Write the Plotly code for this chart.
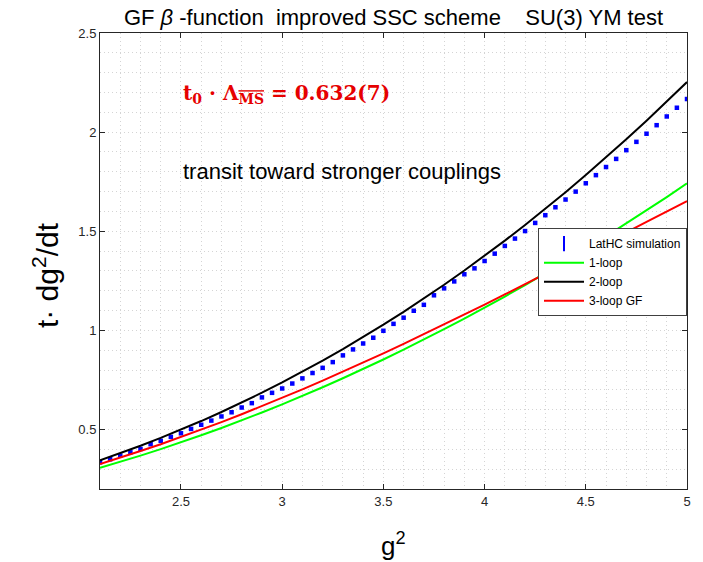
import plotly.graph_objects as go

# ---- data ----
g2_sim = [2.10, 2.15, 2.20, 2.25, 2.30, 2.35, 2.40, 2.45, 2.50, 2.55,
          2.60, 2.65, 2.70, 2.75, 2.80, 2.85, 2.90, 2.95, 3.00, 3.05,
          3.10, 3.15, 3.20, 3.25, 3.30, 3.35, 3.40, 3.45, 3.50, 3.55,
          3.60, 3.65, 3.70, 3.75, 3.80, 3.85, 3.90, 3.95, 4.00, 4.05,
          4.10, 4.15, 4.20, 4.25, 4.30, 4.35, 4.40, 4.45, 4.50, 4.55,
          4.60, 4.65, 4.70, 4.75, 4.80, 4.85, 4.90, 4.95, 5.00]
beta_sim = [0.335, 0.350, 0.369, 0.385, 0.402, 0.426, 0.443, 0.463, 0.481, 0.503,
            0.524, 0.545, 0.566, 0.587, 0.611, 0.633, 0.662, 0.685, 0.707, 0.732,
            0.758, 0.785, 0.811, 0.840, 0.874, 0.904, 0.934, 0.963, 0.998, 1.033,
            1.064, 1.099, 1.129, 1.177, 1.212, 1.247, 1.283, 1.313, 1.350, 1.387,
            1.426, 1.463, 1.501, 1.542, 1.581, 1.621, 1.660, 1.700, 1.742, 1.783,
            1.824, 1.865, 1.909, 1.951, 1.992, 2.035, 2.079, 2.123, 2.167]

g2_line = [2.1, 2.2, 2.3, 2.4, 2.5, 2.6, 2.7, 2.8, 2.9, 3.0,
           3.1, 3.2, 3.3, 3.4, 3.5, 3.6, 3.7, 3.8, 3.9, 4.0,
           4.1, 4.2, 4.3, 4.4, 4.5, 4.6, 4.7, 4.8, 4.9, 5.0]
beta_1loop = [0.3072, 0.3371, 0.3685, 0.4012, 0.4354, 0.4709, 0.5078, 0.5461, 0.5858, 0.6269,
              0.6694, 0.7133, 0.7586, 0.8052, 0.8533, 0.9028, 0.9536, 1.0059, 1.0595, 1.1145,
              1.1709, 1.2288, 1.2880, 1.3486, 1.4106, 1.4740, 1.5388, 1.6049, 1.6725, 1.7415]
beta_2loop = [0.3451, 0.3807, 0.4183, 0.4577, 0.4993, 0.5428, 0.5883, 0.6359, 0.6856, 0.7373,
              0.7913, 0.8473, 0.9056, 0.9660, 1.0287, 1.0936, 1.1608, 1.2303, 1.3021, 1.3763,
              1.4528, 1.5318, 1.6132, 1.6970, 1.7833, 1.8721, 1.9635, 2.0573, 2.1537, 2.2528]
beta_3loop = [0.3264, 0.3582, 0.3914, 0.4258, 0.4618, 0.4989, 0.5372, 0.5768, 0.6176, 0.6595,
              0.7026, 0.7465, 0.7916, 0.8376, 0.8845, 0.9322, 0.9807, 1.0299, 1.0798, 1.1303,
              1.1812, 1.2328, 1.2847, 1.3368, 1.3892, 1.4418, 1.4946, 1.5472, 1.5997, 1.6522]

x_ticks = [2.5, 3, 3.5, 4, 4.5, 5]
x_tick_text = ["2.5", "3", "3.5", "4", "4.5", "5"]
y_ticks = [0.5, 1, 1.5, 2, 2.5]
y_tick_text = ["0.5", "1", "1.5", "2", "2.5"]

FONT = "Liberation Sans, Arial, sans-serif"
AX = "#262626"
GRID = "#d4d4d4"

fig = go.Figure()

# simulation points (legend entry drawn separately with an error-bar-like symbol)
fig.add_trace(go.Scatter(x=g2_sim, y=beta_sim, mode="markers", showlegend=False,
                         marker=dict(symbol="square", size=4.5, color="#0000ff")))
fig.add_trace(go.Scatter(x=[None], y=[None], mode="markers", name="LatHC simulation",
                         marker=dict(symbol="line-ns", size=11, color="#0000ff",
                                     line=dict(color="#0000ff", width=2))))
fig.add_trace(go.Scatter(x=g2_line, y=beta_1loop, mode="lines", name="1-loop",
                         line=dict(color="#00ff00", width=2)))
fig.add_trace(go.Scatter(x=g2_line, y=beta_2loop, mode="lines", name="2-loop",
                         line=dict(color="#000000", width=2)))
fig.add_trace(go.Scatter(x=g2_line, y=beta_3loop, mode="lines", name="3-loop GF",
                         line=dict(color="#ff0000", width=2)))

grid = dict(showgrid=True, gridcolor=GRID, griddash="1px,3px", gridwidth=1)

fig.update_xaxes(range=[2.1, 5], tickvals=x_ticks, ticktext=x_tick_text,
                 ticks="inside", ticklen=5, tickcolor=AX, mirror="allticks",
                 showline=True, linecolor=AX, linewidth=1, zeroline=False,
                 tickfont=dict(family=FONT, size=13, color=AX),
                 minor=dict(dtick=0.1, tick0=2.1, showgrid=True, gridcolor=GRID,
                            griddash="1px,3px", gridwidth=1),
                 **grid)
fig.update_yaxes(range=[0.2, 2.5], tickvals=y_ticks, ticktext=y_tick_text,
                 ticks="inside", ticklen=5, tickcolor=AX, mirror="allticks",
                 showline=True, linecolor=AX, linewidth=1, zeroline=False,
                 tickfont=dict(family=FONT, size=13, color=AX),
                 minor=dict(dtick=0.1, tick0=0.2, showgrid=True, gridcolor=GRID,
                            griddash="1px,3px", gridwidth=1),
                 **grid)

fig.update_layout(
    width=703, height=562,
    margin=dict(l=100, r=14, t=33, b=73),
    paper_bgcolor="white", plot_bgcolor="white",
    font=dict(family=FONT, color="#000000"),
    title=dict(text="GF <i>β</i> -function \u00a0improved SSC scheme \u00a0\u00a0\u00a0SU(3) YM test",
               x=0.5, xref="paper", xanchor="center", y=1 - 17 / 562, yref="container",
               yanchor="middle", font=dict(family=FONT, size=22, color="#000000")),
    legend=dict(x=1.0, xanchor="right", y=0.572, yanchor="top",
                bgcolor="white", bordercolor="#404040", borderwidth=1,
                font=dict(family=FONT, size=12, color="#000000"),
                itemwidth=40, tracegroupgap=0),
    showlegend=True,
)

fig.add_annotation(text="g<sup>2</sup>", xref="paper", yref="paper", x=0.5, y=-0.122,
                   xanchor="center", yanchor="middle", showarrow=False,
                   font=dict(family=FONT, size=26, color="#000000"))
fig.add_annotation(text="t· dg<sup>2</sup>/dt", xref="paper", yref="paper", x=-0.093, y=0.47,
                   xanchor="center", yanchor="middle", textangle=-90, showarrow=False,
                   font=dict(family=FONT, size=30, color="#000000"))
fig.add_annotation(text="<b>t<sub>0</sub> · Λ<sub><span style='text-decoration:overline'>MS</span></sub> = 0.632(7)</b>",
                   xref="x", yref="y", x=2.5, y=2.19, xanchor="left", yanchor="middle",
                   showarrow=False, font=dict(family="DejaVu Serif, serif", size=20, color="#e60000"))
fig.add_annotation(text="transit toward stronger couplings",
                   xref="x", yref="y", x=2.5, y=1.80, xanchor="left", yanchor="middle",
                   showarrow=False, font=dict(family=FONT, size=22, color="#000000"))

fig.write_html("out.html")
